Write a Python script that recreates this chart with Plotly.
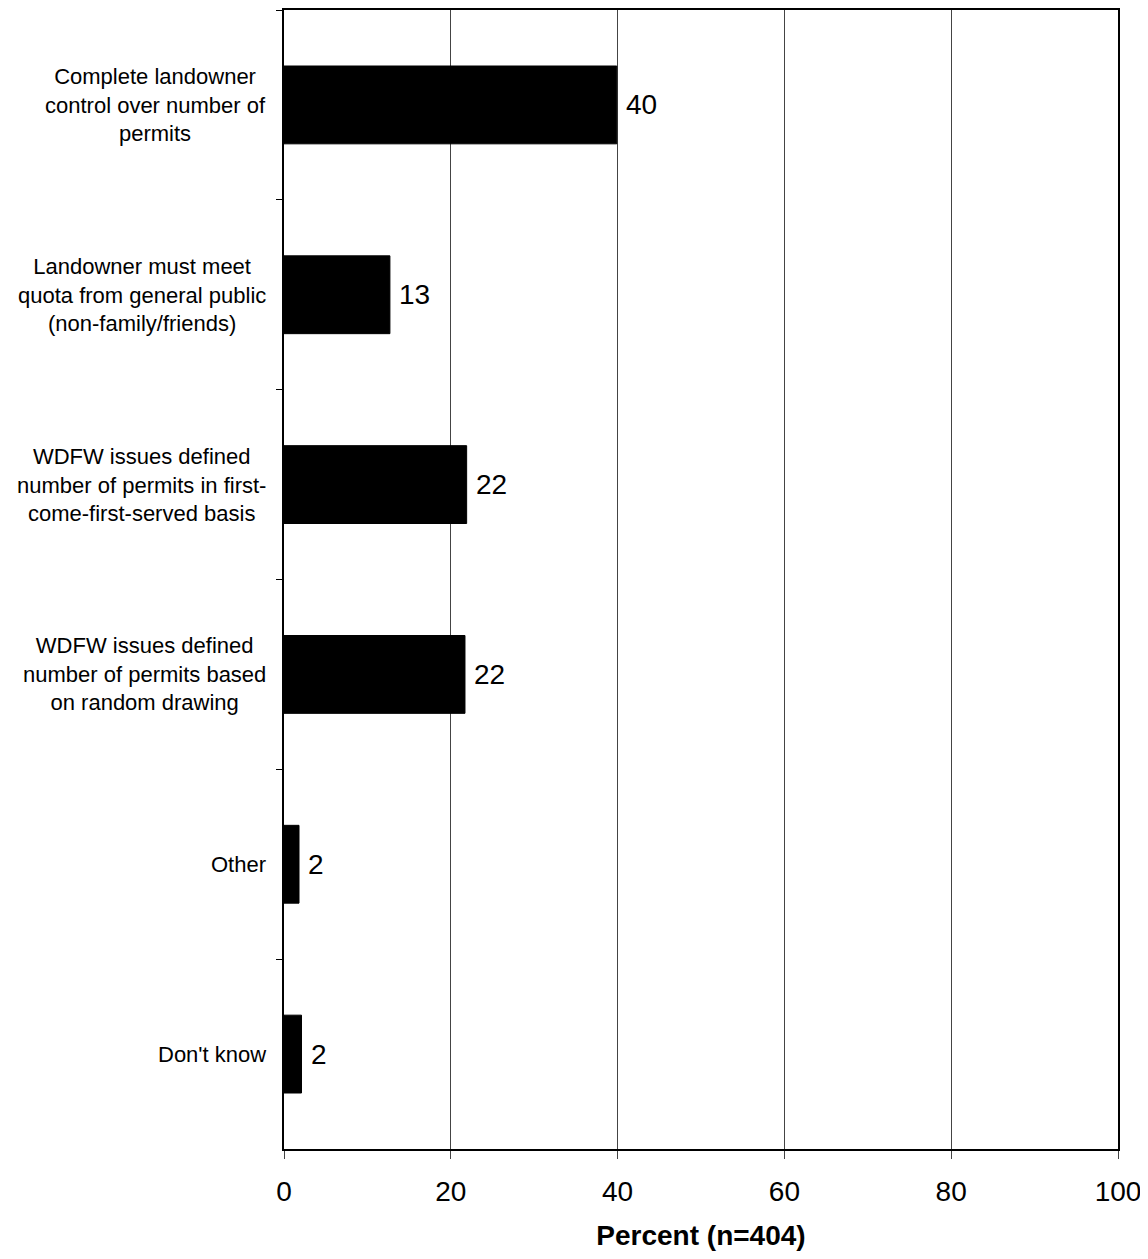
import plotly.graph_objects as go

categories = [
    "Complete landowner<br>control over number of<br>permits",
    "Landowner must meet<br>quota from general public<br>(non-family/friends)",
    "WDFW issues defined<br>number of permits in first-<br>come-first-served basis",
    "WDFW issues defined<br>number of permits based<br>on random drawing",
    "Other",
    "Don't know",
]
values = [39.9, 12.7, 21.9, 21.7, 1.8, 2.1]
labels = ["40", "13", "22", "22", "2", "2"]
x_ticks = [0, 20, 40, 60, 80, 100]

FONT = "Liberation Sans, Arial, sans-serif"

fig = go.Figure()
fig.add_trace(go.Bar(
    y=categories, x=values, orientation="h",
    marker=dict(color="black", line=dict(color="black", width=1)),
    showlegend=False, hoverinfo="x+y",
))

for c, v, t in zip(categories, values, labels):
    fig.add_annotation(
        x=0, xref="paper", y=c, yref="y", text=c, showarrow=False,
        xanchor="right", align="center", xshift=-16,
        font=dict(size=22, color="black", family=FONT),
    )
    fig.add_annotation(
        x=v, xref="x", y=c, yref="y", text=t, showarrow=False,
        xanchor="left", xshift=7,
        font=dict(size=28, color="black", family=FONT),
    )

fig.update_layout(
    width=1132, height=1243,
    margin=dict(l=276, r=22, t=2, b=102),
    paper_bgcolor="white", plot_bgcolor="white",
    bargap=0.59,
    font=dict(family=FONT, color="black"),
    xaxis=dict(
        range=[0, 100], tickvals=x_ticks, ticktext=[str(v) for v in x_ticks],
        showgrid=True, gridcolor="#444", gridwidth=1,
        ticks="outside", ticklen=8, tickcolor="#444",
        ticklabeloverflow="allow", ticklabelstandoff=8,
        tickfont=dict(size=28, family=FONT, color="black"),
        showline=True, linecolor="black", linewidth=2, mirror=True,
        zeroline=False, automargin=False,
        title=dict(text="<b>Percent (n=404)</b>", font=dict(size=28, family=FONT, color="black"), standoff=28),
    ),
    yaxis=dict(
        autorange="reversed", tickson="boundaries", ticks="outside", ticklen=6,
        tickcolor="black", showticklabels=False, showgrid=False,
        showline=True, linecolor="black", linewidth=2, mirror=True,
    ),
)

fig.write_html("out.html")
